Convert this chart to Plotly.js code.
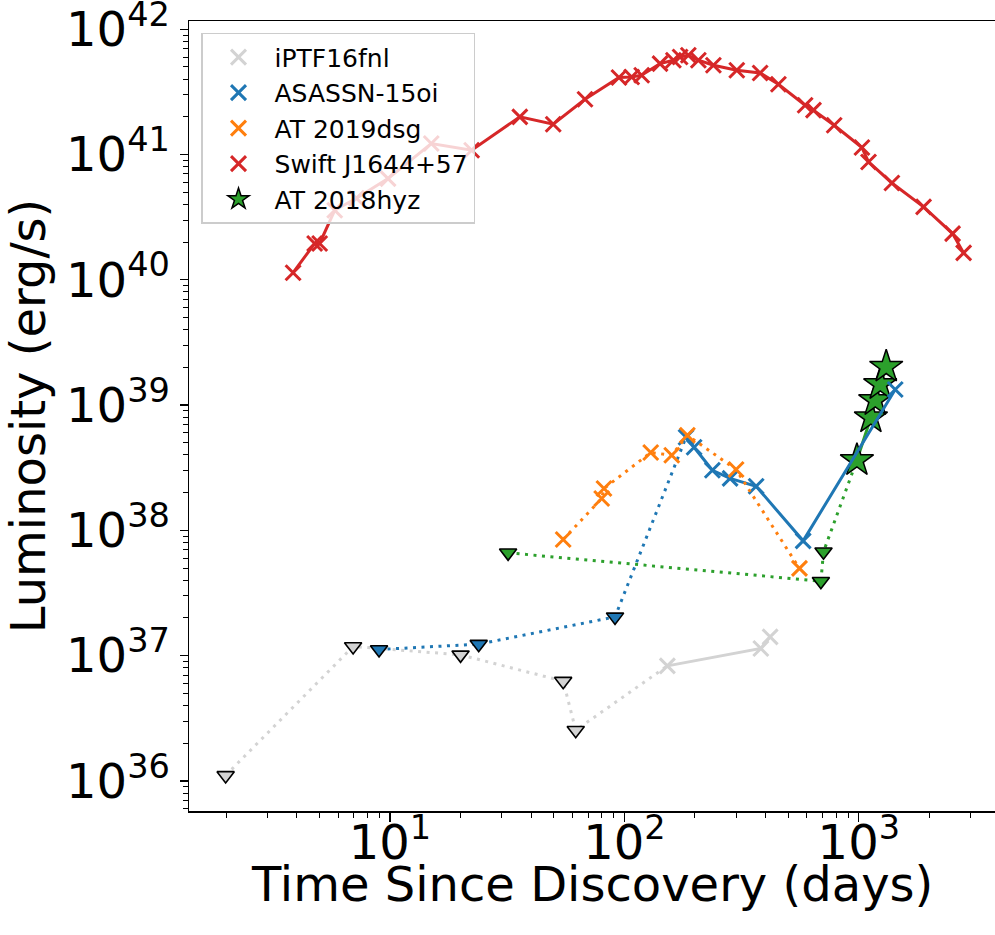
<!DOCTYPE html>
<html><head><meta charset="utf-8">
<script src="https://cdn.plot.ly/plotly-3.0.1.min.js"></script>
<style>html,body{margin:0;padding:0;background:#fff;overflow:hidden}</style>
</head><body><div id="chart" style="width:995px;height:935px"></div>
<script>
// ---- data (days since discovery, luminosity erg/s) ----
const iptfLimT = [1.99, 6.96, 20.0, 54.8, 62.0];
const iptfLimL = [1.107e36, 1.184e37, 1.015e37, 6.26e36, 2.54e36];
const iptfDetT = [152.5, 382, 418.5];
const iptfDetL = [8.29e36, 1.141e37, 1.413e37];

const asasLimT = [8.98, 23.9, 91.2];
const asasLimL = [1.12e37, 1.235e37, 2.04e37];
const asasDetT = [183.2, 198.3, 237.3, 282.4, 364.7, 578.8, 1430];
const asasDetL = [5.54e38, 4.61e38, 3.02e38, 2.60e38, 2.25e38, 8.25e37, 1.332e39];

const dsgT = [54.8, 80.0, 81.8, 129.5, 159.2, 185.6, 299.5, 558.3];
const dsgL = [8.46e37, 1.797e38, 2.16e38, 4.18e38, 3.98e38, 5.75e38, 3.06e38, 4.97e37];

const swiftT = [3.86, 4.77, 5.01, 5.81, 7.19, 9.81, 15.0, 22.3, 35.8, 49.7, 67.9, 94.8, 107.4, 118.5,
  141.9, 161.8, 172.8, 187.4, 206.8, 239.7, 301.6, 379.3, 454, 590, 640.7, 785, 1031, 1100, 1384, 1889, 2512, 2800];
const swiftL = [1.14e40, 1.95e40, 1.95e40, 3.59e40, 4.48e40, 6.43e40, 1.224e41, 1.082e41, 2.0e41, 1.745e41, 2.76e41,
  4.12e41, 4.16e41, 4.30e41, 5.32e41, 5.66e41, 6.01e41, 6.20e41, 5.66e41, 5.16e41, 4.71e41, 4.48e41, 3.64e41,
  2.475e41, 2.26e41, 1.713e41, 1.137e41, 8.73e40, 5.93e40, 3.82e40, 2.34e40, 1.64e40];

const hyzLimT = [31.9, 689, 707];
const hyzLimL = [6.62e37, 3.93e37, 6.76e37];
const hyzDetT = [981.5, 1126, 1175, 1234, 1309];
const hyzDetL = [3.63e38, 7.96e38, 1.094e39, 1.468e39, 2.02e39];

const names = ['iPTF16fnl', 'ASASSN-15oi', 'AT 2019dsg', 'Swift J1644+57', 'AT 2018hyz'];
const xTickVals = [10, 100, 1000];
const xTickText = ['10<sup>1</sup>', '10<sup>2</sup>', '10<sup>3</sup>'];
const yTickVals = [1e36, 1e37, 1e38, 1e39, 1e40, 1e41, 1e42];
const yTickText = ['10<sup>36</sup>', '10<sup>37</sup>', '10<sup>38</sup>', '10<sup>39</sup>', '10<sup>40</sup>', '10<sup>41</sup>', '10<sup>42</sup>'];
const xTitle = 'Time Since Discovery (days)';
const yTitle = 'Luminosity (erg/s)';

// ---- styles ----
const GREY = '#d3d3d3', BLUE = '#1f77b4', ORANGE = '#ff7f0e', RED = '#d62728', GREEN = '#2ca02c';
const DOT = '3px,5.5px';
const LW = 3;

function minorVals(lo, hi) {
  const v = [];
  for (let d = lo; d <= hi; d++) for (let k = 2; k <= 9; k++) v.push(k * Math.pow(10, d));
  return v;
}

const traces = [];
// legend-only entries
const legendSpecs = [
  {color: GREY, symbol: 'x-thin', size: 15, line: {color: GREY, width: 3}},
  {color: BLUE, symbol: 'x-thin', size: 15, line: {color: BLUE, width: 3}},
  {color: ORANGE, symbol: 'x-thin', size: 15, line: {color: ORANGE, width: 3}},
  {color: RED, symbol: 'x-thin', size: 15, line: {color: RED, width: 3}},
  {color: GREEN, symbol: 'star', size: 25, line: {color: 'black', width: 1.5}}
];
names.forEach((n, i) => traces.push({x: [null], y: [null], mode: 'markers', name: n, marker: legendSpecs[i], showlegend: true, hoverinfo: 'skip'}));

function line(x, y, color, dash) {
  return {x: x, y: y, mode: 'lines', line: {color: color, width: LW, dash: dash}, showlegend: false, hoverinfo: 'skip'};
}
function marks(x, y, m) {
  return {x: x, y: y, mode: 'markers', marker: m, showlegend: false, hoverinfo: 'skip', cliponaxis: false};
}
const tri = c => ({symbol: 'triangle-down', size: 15, color: c, line: {color: 'black', width: 1.6}});
const cross = c => ({symbol: 'x-thin', size: 15, color: c, line: {color: c, width: 3}});

// AT 2018hyz (drawn underneath)
traces.push(line(hyzLimT.concat([hyzDetT[0]]), hyzLimL.concat([hyzDetL[0]]), GREEN, DOT));
traces.push(line(hyzDetT, hyzDetL, GREEN, 'solid'));
traces.push(marks(hyzLimT, hyzLimL, tri(GREEN)));
traces.push(marks(hyzDetT, hyzDetL, {symbol: 'star', size: 25, color: GREEN, line: {color: 'black', width: 1.5}}));
// iPTF16fnl
traces.push(line(iptfLimT.concat([iptfDetT[0]]), iptfLimL.concat([iptfDetL[0]]), GREY, DOT));
traces.push(line(iptfDetT, iptfDetL, GREY, 'solid'));
traces.push(marks(iptfLimT, iptfLimL, tri(GREY)));
traces.push(marks(iptfDetT, iptfDetL, cross(GREY)));
// ASASSN-15oi
traces.push(line(asasLimT.concat([asasDetT[0]]), asasLimL.concat([asasDetL[0]]), BLUE, DOT));
traces.push(line(asasDetT, asasDetL, BLUE, 'solid'));
traces.push(marks(asasLimT, asasLimL, tri(BLUE)));
traces.push(marks(asasDetT, asasDetL, cross(BLUE)));
// AT 2019dsg
traces.push(line(dsgT, dsgL, ORANGE, DOT));
traces.push(marks(dsgT, dsgL, cross(ORANGE)));
// Swift J1644+57
traces.push(line(swiftT, swiftL, RED, 'solid'));
traces.push(marks(swiftT, swiftL, cross(RED)));

const FONT = 'DejaVu Sans, sans-serif';
const layout = {
  width: 995, height: 935,
  margin: {l: 189, r: 0, t: 21, b: 124},
  paper_bgcolor: '#fff', plot_bgcolor: '#fff',
  font: {family: FONT, color: 'black', size: 24},
  showlegend: true,
  legend: {
    x: 0.0149, y: 0.985, xanchor: 'left', yanchor: 'top',
    bgcolor: 'rgba(255,255,255,0.8)', bordercolor: '#cccccc', borderwidth: 1.5,
    font: {family: FONT, size: 25, color: 'black'},
    itemsizing: 'trace', itemwidth: 62, traceorder: 'normal'
  },
  xaxis: {
    type: 'log', range: [0.1425, 3.581], autorange: false,
    tickmode: 'array', tickvals: xTickVals, ticktext: xTickText,
    tickfont: {family: FONT, size: 48, color: 'black'},
    ticks: 'outside', ticklen: 9, tickwidth: 1.3, tickcolor: 'black',
    ticklabeloverflow: 'allow', ticklabelposition: 'outside', ticklabelstandoff: -20,
    minor: {tickmode: 'array', tickvals: minorVals(0, 3), ticks: 'outside', ticklen: 5, tickwidth: 1, tickcolor: 'black', showgrid: false},
    showline: true, linecolor: 'black', linewidth: 1.5, mirror: true,
    showgrid: false, zeroline: false
  },
  yaxis: {
    type: 'log', range: [35.76, 42.066], autorange: false,
    tickmode: 'array', tickvals: yTickVals, ticktext: yTickText,
    tickfont: {family: FONT, size: 48, color: 'black'},
    ticks: 'outside', ticklen: 8, tickwidth: 1.3, tickcolor: 'black',
    ticklabeloverflow: 'allow',
    minor: {tickmode: 'array', tickvals: minorVals(35, 42), ticks: 'outside', ticklen: 5, tickwidth: 1, tickcolor: 'black', showgrid: false},
    showline: true, linecolor: 'black', linewidth: 1.5, mirror: false,
    showgrid: false, zeroline: false,
    title: {text: yTitle, font: {family: FONT, size: 48, color: 'black'}, standoff: 10}
  },
  annotations: [{
    text: xTitle, xref: 'paper', yref: 'paper', x: 0.5, y: -0.092,
    xanchor: 'center', yanchor: 'middle', showarrow: false,
    font: {family: FONT, size: 48, color: 'black'}
  }]
};
Plotly.newPlot('chart', traces, layout, {displayModeBar: false, staticPlot: true});
</script>
</body></html>
